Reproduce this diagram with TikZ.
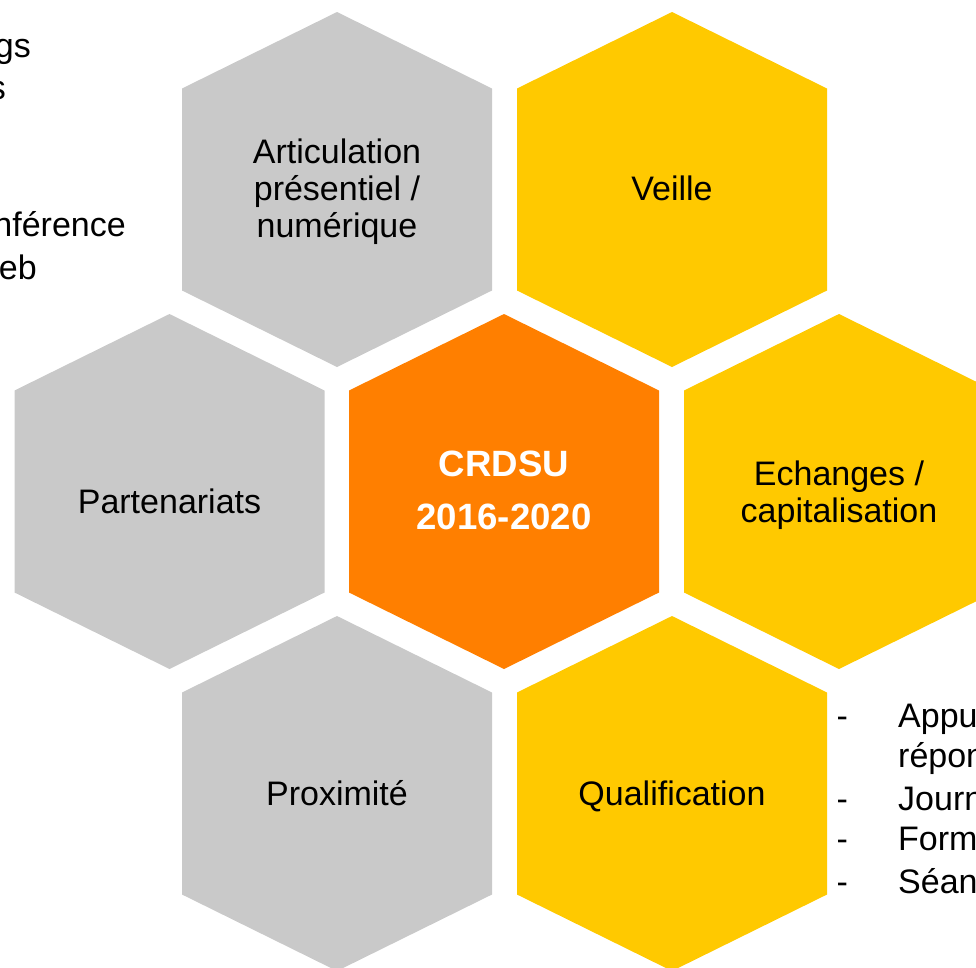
\documentclass[tikz,border=0pt]{standalone}
\usepackage{fontspec}
\setmainfont{Liberation Sans}
\definecolor{cellgrey}{HTML}{C9C9C9}
\definecolor{cellyellow}{HTML}{FFC900}
\definecolor{cellorange}{HTML}{FF7F00}

\begin{document}
\begin{tikzpicture}[x=1pt,y=-1pt,
    hexa/.style={insert path={++(0,-177.5) -- ++(155,76.5) -- ++(0,202) -- ++(-155,76.5) -- ++(-155,-76.5) -- ++(0,-202) -- cycle}},
    celltext/.style={inner sep=0pt, align=center, text=black, font=\fontsize{34}{37}\selectfont},
    listtext/.style={inner sep=0pt, text=black, font=\fontsize{34}{37}\selectfont},
    ]
    \useasboundingbox (0,0) rectangle (976,967);
    \clip (0,0) rectangle (976,967);

    % the seven cells
    \fill [cellgrey] (337,189.5) [hexa];
    \fill [cellyellow] (672,189.5) [hexa];
    \fill [cellgrey] (169.5,491.5) [hexa];
    \fill [cellorange] (504,491.5) [hexa];
    \fill [cellyellow] (839,491.5) [hexa];
    \fill [cellgrey] (337,793.5) [hexa];
    \fill [cellyellow] (672,793.5) [hexa];

    \node [celltext] (artic) at (337,191.4) {Articulation\\ présentiel /\\ numérique};
    \node [celltext,anchor=base] (veille) at (672,200) {Veille};
    \node [celltext,anchor=base] (parten) at (169.5,513) {Partenariats};
    \node [celltext,text=white,font=\bfseries\fontsize{36.6}{53}\selectfont] (crdsu) at (504,490.3) {CRDSU\\ 2016-2020};
    \node [celltext] (echang) at (839,494.9) {Echanges /\\ capitalisation};
    \node [celltext,anchor=base] (proxi) at (337,805) {Proximité};
    \node [celltext,anchor=base] (qualif) at (672,805) {Qualification};

    % list cut on the left
    \node [listtext,anchor=base east] (outil1) at (31,57) {Blogs};
    \node [listtext,anchor=base east] (outil2) at (6,99) {Vidéos};
    \node [listtext,anchor=base east] (outil3) at (126,236) {Visioconférence};
    \node [listtext,anchor=base east] (outil4) at (37,279) {Site web};

    % list cut on the right
    \node [listtext,anchor=base west] (dash1) at (836.5,727) {-};
    \node [listtext,anchor=base west] (item1) at (898,727) {Appui aux acteurs,};
    \node [listtext,anchor=base west] (item1b) at (898,767) {réponses aux questions};
    \node [listtext,anchor=base west] (dash2) at (836.5,810) {-};
    \node [listtext,anchor=base west] (item2) at (898,810) {Journées};
    \node [listtext,anchor=base west] (dash3) at (836.5,850) {-};
    \node [listtext,anchor=base west] (item3) at (898,850) {Formations};
    \node [listtext,anchor=base west] (dash4) at (836.5,893) {-};
    \node [listtext,anchor=base west] (item4) at (898,893) {Séances};
\end{tikzpicture}
\end{document}
